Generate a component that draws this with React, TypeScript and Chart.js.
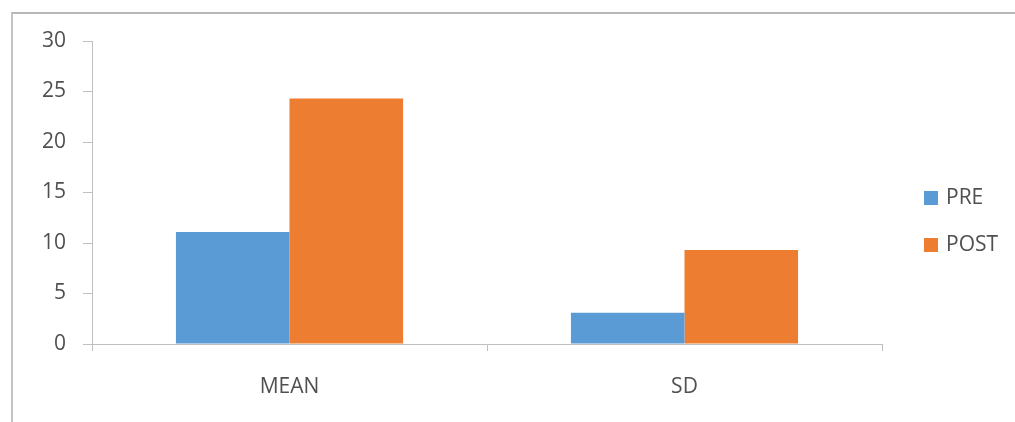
import React, { useEffect, useRef } from "react";
import { Chart, registerables } from "chart.js";

Chart.register(...registerables);

const categories = ["MEAN", "SD"];
const preValues = [11.1, 3.1];
const postValues = [24.3, 9.3];
const seriesNames = ["PRE", "POST"];
const seriesColors = ["#5B9BD5", "#ED7D31"];
const yTicks = [0, 5, 10, 15, 20, 25, 30];

const FONT = "'Open Sans', 'Noto Sans', sans-serif";
const TEXT = "#505050";
const AXIS = "#bfbfbf";

// Vertical legend drawn to the right of the plot area
const sideLegend = {
  id: "sideLegend",
  afterDraw(chart: any) {
    const ctx = chart.ctx;
    const area = chart.chartArea;
    const x = area.right + 42;
    const ys = [191, 238];
    ctx.save();
    ctx.font = `21px ${FONT}`;
    ctx.textBaseline = "middle";
    ctx.textAlign = "left";
    chart.data.datasets.forEach((ds: any, i: number) => {
      ctx.fillStyle = ds.backgroundColor;
      ctx.fillRect(x, ys[i], 14, 14);
      ctx.fillStyle = TEXT;
      ctx.fillText(ds.label, x + 22, ys[i] + 7);
    });
    ctx.restore();
  },
};

export default function App() {
  const ref = useRef<HTMLCanvasElement | null>(null);

  useEffect(() => {
    if (!ref.current) return;
    const chart = new Chart(ref.current, {
      type: "bar",
      data: {
        labels: categories,
        datasets: [
          { label: seriesNames[0], data: preValues, backgroundColor: seriesColors[0] },
          { label: seriesNames[1], data: postValues, backgroundColor: seriesColors[1] },
        ],
      },
      plugins: [sideLegend],
      options: {
        animation: false,
        responsive: false,
        maintainAspectRatio: false,
        layout: { padding: { top: 41, left: 0, right: 133, bottom: 0 } },
        datasets: {
          bar: { categoryPercentage: 0.575, barPercentage: 1.0, borderWidth: 0 },
        },
        plugins: {
          legend: { display: false },
          tooltip: { enabled: false },
        },
        scales: {
          x: {
            offset: true,
            grid: {
              offset: true,
              drawOnChartArea: false,
              drawTicks: true,
              tickLength: 7,
              color: AXIS,
            },
            border: { color: AXIS, width: 1 },
            ticks: { color: TEXT, font: { family: FONT, size: 21 }, padding: 23 },
            afterFit: (s: any) => {
              s.height = 78;
            },
          },
          y: {
            min: 0,
            max: 30,
            afterBuildTicks: (s: any) => {
              s.ticks = yTicks.map((v) => ({ value: v }));
            },
            grid: {
              drawOnChartArea: false,
              drawTicks: true,
              tickLength: 9,
              color: AXIS,
            },
            border: { color: AXIS, width: 1 },
            ticks: { color: TEXT, font: { family: FONT, size: 21 }, padding: 17 },
            afterFit: (s: any) => {
              s.width = 92;
            },
          },
        },
      },
    });
    return () => chart.destroy();
  }, []);

  return (
    <div style={{ position: "fixed", left: 0, top: 0, width: 1015, height: 422, background: "#fff", overflow: "hidden" }}>
      <div
        style={{
          position: "absolute",
          left: 11,
          top: 12,
          width: 1100,
          height: 500,
          borderLeft: "2px solid #c4c4c4",
          borderTop: "2px solid #b8b8b8",
        }}
      />
      <canvas ref={ref} width={1015} height={422} style={{ position: "absolute", left: 0, top: 0 }} />
    </div>
  );
}
